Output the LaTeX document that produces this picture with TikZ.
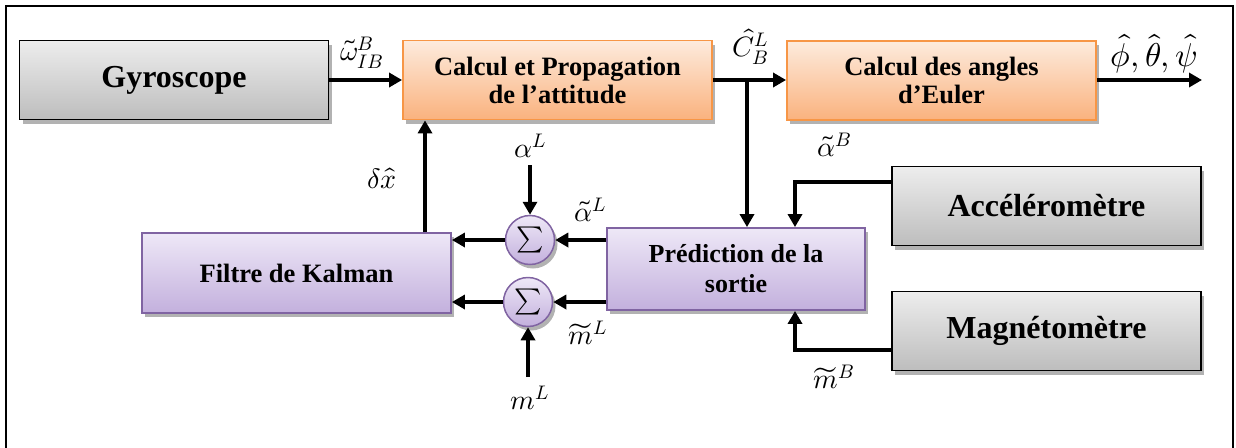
\documentclass[tikz,border=0pt]{standalone}
\usepackage{fontspec}
\usepackage{unicode-math}
\setmainfont{Liberation Serif}
\setmathfont{Latin Modern Math}
\usetikzlibrary{shadows,arrows.meta}
\definecolor{orbord}{HTML}{F79646}
\definecolor{ortop}{HTML}{FDEBDD}
\definecolor{orbot}{HTML}{FAB27E}
\definecolor{pubord}{HTML}{8064A2}
\definecolor{putop}{HTML}{EEE8F7}
\definecolor{pubot}{HTML}{C3B0DD}
\definecolor{grtop}{HTML}{EDEDED}
\definecolor{grbot}{HTML}{BDBDBD}
\tikzset{
  shad/.style={drop shadow={shadow xshift=3pt,shadow yshift=-4pt,opacity=0.3,fill=black}},
  graybox/.style={shad,draw=black,line width=1.8pt,top color=grtop,bottom color=grbot,
    minimum width=309pt,minimum height=79pt,inner sep=0pt,
    font=\fontsize{32}{34}\selectfont\bfseries},
  orangebox/.style={shad,draw=orbord,line width=1.8pt,top color=ortop,bottom color=orbot,
    minimum width=309pt,minimum height=79pt,inner sep=0pt,align=center,
    font=\fontsize{26.5}{28}\selectfont\bfseries},
  purplebox/.style={shad,draw=pubord,line width=1.8pt,top color=putop,bottom color=pubot,
    minimum height=80pt,inner sep=0pt,align=center,
    font=\fontsize{26.5}{28}\selectfont\bfseries},
  sumnode/.style={shad,circle,draw=pubord,line width=1.5pt,top color=putop,bottom color=pubot,
    minimum size=49pt,inner sep=0pt,font=\fontsize{26}{26}\selectfont},
  lbl/.style={inner sep=0pt,font=\fontsize{28}{30}\selectfont},
  conn/.style={line width=4pt,-{Triangle[length=13pt,width=14pt]}},
}
\begin{document}
\begin{tikzpicture}[x=1pt,y=-1pt]
\useasboundingbox (0,0) rectangle (1236,447);
\draw[line width=2.4pt] (6,460) -- (6,6) -- (1233,6) -- (1233,460);

\node[graybox] (gyro) at (174,80) {Gyroscope};
\node[orangebox] (calc) at (557.5,80) {Calcul et Propagation\\de l’attitude};
\node[orangebox] (euler) at (941.5,80.5) {Calcul des angles\\d’Euler};
\node[graybox] (accel) at (1046.5,206) {Accéléromètre};
\node[graybox] (magn) at (1046.5,331) {Magnétomètre};
\node[purplebox,minimum width=258pt,minimum height=82pt,font=\fontsize{26}{30}\selectfont\bfseries] (pred) at (736,269) {Prédiction de la\\sortie};
\node[purplebox,minimum width=309pt] (kalman) at (296.5,273) {Filtre de Kalman};
\node[sumnode] (s1) at (530,240) {$\textstyle\sum$};
\node[sumnode] (s2) at (528,302) {$\textstyle\sum$};

\coordinate (br) at (747,80);
\coordinate (out) at (1202,80);
\coordinate (aL) at (530,165);
\coordinate (mL) at (528,377);
\coordinate (fb) at (425,0);

\draw[conn] (gyro.east) -- (calc.west);
\draw[conn] (calc.east) -- (calc.east -| euler.west);
\draw[conn] (euler.east |- out) -- (out);
\draw[conn] (br) -- (br |- pred.north);
\draw[conn] ([yshift=24pt]accel.west) -| ([xshift=59pt]pred.north);
\draw[conn] ([yshift=-19pt]magn.west) -| ([xshift=59pt]pred.south);
\draw[conn] ([yshift=29pt]pred.west) -- (s1.east);
\draw[conn] ([yshift=-33pt]pred.west) -- (s2.east);
\draw[conn] (s1.west) -- (s1.west -| kalman.east);
\draw[conn] (s2.west) -- (s2.west -| kalman.east);
\draw[conn] (aL) -- (s1.north);
\draw[conn] (mL) -- (s2.south);
\draw[conn] (kalman.north -| fb) -- (calc.south -| fb);

\node[lbl] (lw) at (362,53) {$\widetilde{\omega}^{B}_{IB}$};
\node[lbl] (lc) at (750,47) {$\hat{C}^{L}_{B}$};
\node[lbl,font=\fontsize{33}{34}\selectfont] (le) at (1154,54) {$\hat{\phi},\hat{\theta},\hat{\psi}$};
\node[lbl] (la) at (530,146) {$\alpha^{L}$};
\node[lbl] (ldx) at (382,178) {$\delta\hat{x}$};
\node[lbl] (lat) at (590,210) {$\tilde{\alpha}^{L}$};
\node[lbl] (lmt) at (588,333) {$\widetilde{m}^{L}$};
\node[lbl] (lm) at (530,398) {$m^{L}$};
\node[lbl] (laB) at (834,145) {$\tilde{\alpha}^{B}$};
\node[lbl] (lmB) at (834,377) {$\widetilde{m}^{B}$};
\end{tikzpicture}
\end{document}
